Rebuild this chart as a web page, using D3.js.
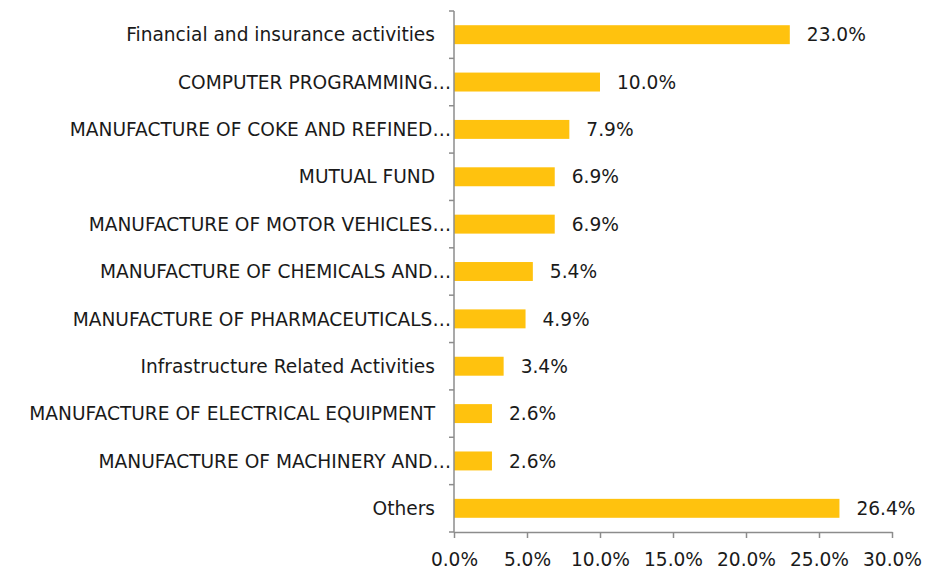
<!DOCTYPE html>
<html>
<head>
<meta charset="utf-8">
<script src="https://d3js.org/d3.v7.min.js"></script>
<style>
body { margin: 0; background: #fff; }
text { font-family: "DejaVu Sans", sans-serif; }
</style>
</head>
<body>
<div id="chart"></div>
<script>
// categories, top to bottom
var sectors = [
  "Financial and insurance activities",
  "COMPUTER PROGRAMMING…",
  "MANUFACTURE OF COKE AND REFINED…",
  "MUTUAL FUND",
  "MANUFACTURE OF MOTOR VEHICLES…",
  "MANUFACTURE OF CHEMICALS AND…",
  "MANUFACTURE OF PHARMACEUTICALS…",
  "Infrastructure Related Activities",
  "MANUFACTURE OF ELECTRICAL EQUIPMENT",
  "MANUFACTURE OF MACHINERY AND…",
  "Others"
];
var shares = [23.0, 10.0, 7.9, 6.9, 6.9, 5.4, 4.9, 3.4, 2.6, 2.6, 26.4];
var xTicks = [0, 5, 10, 15, 20, 25, 30];

var W = 930, H = 574;
var margin = {top: 11, right: 38, bottom: 42, left: 454};
var width = W - margin.left - margin.right,
    height = H - margin.top - margin.bottom;
var fs = 18.6;

var svg = d3.select("#chart").append("svg")
    .attr("width", W).attr("height", H)
  .append("g")
    .attr("transform", "translate(" + margin.left + "," + margin.top + ")");

var x = d3.scaleLinear().domain([0, 30]).range([0, width]);
var y = d3.scaleBand().domain(sectors).range([0, height]).paddingInner(0.6).paddingOuter(0.3);

// bars
svg.selectAll(".bar")
    .data(sectors)
  .enter().append("rect")
    .attr("x", x(0))
    .attr("y", function(d) { return y(d); })
    .attr("width", function(d, i) { return x(shares[i]) - x(0); })
    .attr("height", y.bandwidth())
    .attr("fill", "#FFC20E");

// value labels
svg.selectAll(".val")
    .data(sectors)
  .enter().append("text")
    .attr("x", function(d, i) { return x(shares[i]) + 17; })
    .attr("y", function(d) { return y(d) + y.bandwidth() / 2; })
    .attr("dy", "0.36em")
    .attr("font-size", fs)
    .attr("fill", "#1a1a1a")
    .text(function(d, i) { return shares[i].toFixed(1) + "%"; });

// category labels
svg.selectAll(".cat")
    .data(sectors)
  .enter().append("text")
    .attr("x", function(d) { return d.slice(-1) == "…" ? -3 : -19; })
    .attr("y", function(d) { return y(d) + y.bandwidth() / 2; })
    .attr("dy", "0.36em")
    .attr("text-anchor", "end")
    .attr("font-size", fs)
    .attr("fill", "#1a1a1a")
    .text(function(d) { return d; });

// y axis line with category boundary ticks
var step = height / sectors.length;
var yax = svg.append("g").attr("stroke", "#8c8c8c").attr("stroke-width", 1.5);
yax.append("line").attr("x1", 0).attr("x2", 0).attr("y1", 0).attr("y2", height);
yax.selectAll("line.t")
    .data(d3.range(sectors.length + 1))
  .enter().append("line")
    .attr("x1", -5).attr("x2", 0)
    .attr("y1", function(i) { return i * step; })
    .attr("y2", function(i) { return i * step; });

// x axis
var xAxis = svg.append("g")
    .attr("transform", "translate(0," + height + ")")
    .call(d3.axisBottom(x).tickValues(xTicks).tickSize(6).tickSizeOuter(0)
      .tickFormat(function(d) { return d.toFixed(1) + "%"; }));
xAxis.select(".domain").attr("stroke", "#8c8c8c").attr("stroke-width", 1.5);
xAxis.selectAll(".tick line").attr("stroke", "#8c8c8c").attr("stroke-width", 1.5);
xAxis.selectAll(".tick text")
    .attr("font-size", fs)
    .attr("fill", "#1a1a1a")
    .attr("font-family", "DejaVu Sans, sans-serif")
    .attr("dy", "1.34em");
</script>
</body>
</html>
